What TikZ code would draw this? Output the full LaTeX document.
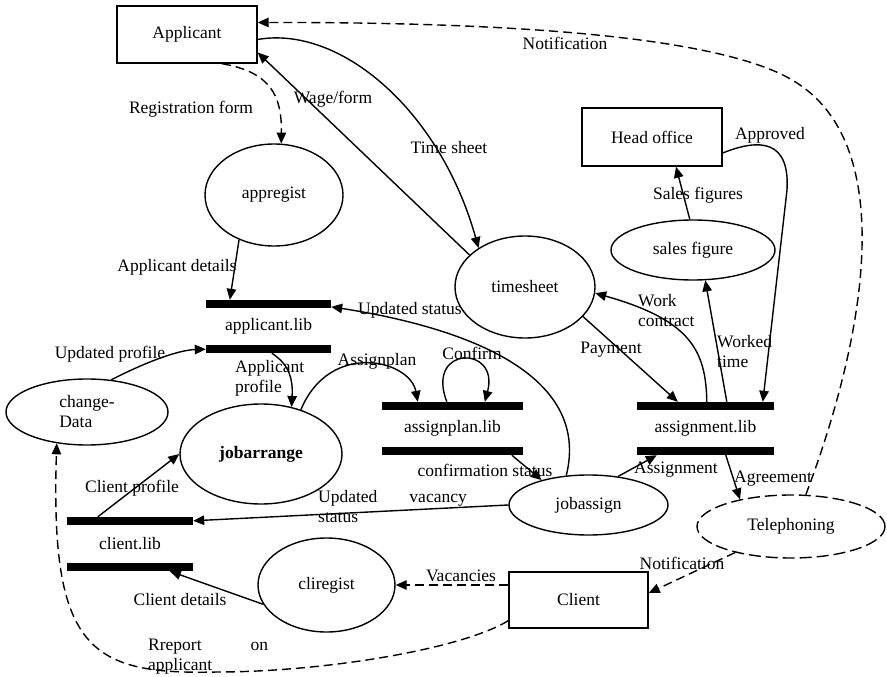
\documentclass[tikz,border=0pt]{standalone}
\usepackage{fontspec}
\setmainfont{Liberation Serif}
\usetikzlibrary{arrows.meta,shapes.geometric}

\begin{document}
\begin{tikzpicture}[
  every node/.style={font=\fontsize{17.5}{20}\selectfont, inner sep=1pt},
  ext/.style={rectangle, draw=black, line width=1.4pt},
  proc/.style={ellipse, draw=black, line width=1.4pt, inner sep=2pt},
  store/.style={rectangle, minimum height=45pt, inner sep=0pt},
  bar/.style={line width=8.5pt, color=black},
  flow/.style={line width=1.4pt, -{Triangle[length=11pt, width=9.5pt]}},
  dflow/.style={flow, dash pattern=on 9pt off 5pt},
  lbl/.style={inner sep=0pt}
]
\useasboundingbox (0pt, 0pt) rectangle (887pt, -677pt);
% externals, processes and stores
\node (1) [ext, minimum width=140pt, minimum height=57pt] at (187pt, -34.5pt) {Applicant};
\node (2) [ext, minimum width=140pt, minimum height=58pt] at (652pt, -137pt) {Head office};
\node (3) [ext, minimum width=139pt, minimum height=56pt] at (578.5pt, -600pt) {Client};
\node (4) [proc, minimum width=138pt, minimum height=102pt] at (274pt, -195pt) {appregist};
\node (5) [proc, minimum width=140pt, minimum height=102pt] at (525pt, -287pt) {timesheet};
\node (6) [proc, minimum width=164pt, minimum height=60pt] at (693pt, -250pt) {sales figure};
\node (7) [proc, minimum width=162pt, minimum height=66pt, align=left] at (87pt, -412pt) {change-\\Data};
\node (8) [proc, minimum width=162pt, minimum height=100pt, font={\fontsize{17.5}{20}\selectfont\bfseries}] at (261pt, -454pt) {jobarrange};
\node (9) [proc, minimum width=137pt, minimum height=94pt] at (326.5pt, -585pt) {cliregist};
\node (10) [proc, minimum width=159pt, minimum height=60pt] at (588.5pt, -505pt) {jobassign};
\node (11) [proc, dash pattern=on 12pt off 5pt, minimum width=188pt, minimum height=63pt] at (791pt, -526.5pt) {Telephoning};
\node (12) [store, minimum width=125pt] at (268.5pt, -326.5pt) {applicant.lib};
\node (13) [store, minimum width=141pt] at (452.5pt, -428.5pt) {assignplan.lib};
\node (14) [store, minimum width=137pt] at (705.5pt, -428.5pt) {assignment.lib};
\node (15) [store, minimum width=126pt, minimum height=46pt] at (130pt, -544pt) {client.lib};
\foreach \s in {12,13,14,15} {
  \draw [bar] (\s.north west) -- (\s.north east);
  \draw [bar] (\s.south west) -- (\s.south east);
}
% data flows
\draw [dflow] (11.65) .. controls (868pt, -330pt) and (895pt, -150pt) .. (800pt, -85pt) .. controls (730pt, -35pt) and (500pt, -22pt) .. ([yshift=12pt]1.east);
\draw [dflow] ([xshift=35pt]1.south) .. controls (270pt, -72pt) and (282pt, -95pt) .. (4.82);
\draw [flow] (5.150) -- ([yshift=-18pt]1.east);
\draw [flow] ([yshift=-5pt]1.east) .. controls (340pt, -25pt) and (440pt, -110pt) .. (5.140);
\draw [flow] (4.232) -- ([xshift=24pt, yshift=4pt]12.north west);
\draw [flow] (10.127) .. controls (590pt, -380pt) and (480pt, -330pt) .. ([yshift=-3pt]12.north east);
\draw [flow] (7.53) .. controls (150pt, -360pt) and (180pt, -350pt) .. (12.south west);
\draw [flow] ([xshift=66pt, yshift=-4pt]12.south west) .. controls (290pt, -365pt) and (293pt, -380pt) .. (8.57);
\draw [flow] (8.48) .. controls (330pt, -340pt) and (410pt, -360pt) .. ([xshift=36pt, yshift=4pt]13.north west);
\draw [flow] ([xshift=65pt, yshift=4pt]13.north west) .. controls (425pt, -345pt) and (500pt, -345pt) .. ([xshift=103pt, yshift=4pt]13.north west);
\draw [flow] ([xshift=130pt, yshift=-4pt]13.south west) -- (10.152);
\draw [flow] (5.-27) -- ([xshift=41pt, yshift=4pt]14.north west);
\draw [flow] ([xshift=70pt, yshift=4pt]14.north west) .. controls (706pt, -350pt) and (690pt, -320pt) .. (5.-5);
\draw [flow] ([xshift=90pt, yshift=4pt]14.north west) -- (6.-68);
\draw [flow] ([yshift=-16pt]2.east) .. controls (760pt, -138pt) and (790pt, -140pt) .. (787pt, -190pt) -- ([xshift=126pt, yshift=4pt]14.north west);
\draw [flow] (6.96) -- ([xshift=24pt]2.south);
\draw [flow] (10.44) -- ([xshift=20pt, yshift=-4pt]14.south west);
\draw [flow] ([xshift=89pt, yshift=-4pt]14.south west) -- (11.152);
\draw [dflow] (11.205) -- ([yshift=7pt]3.east);
\draw [dflow] ([yshift=15pt]3.west) -- (9.0);
\draw [flow] (9.197) -- ([xshift=103pt, yshift=-4pt]15.south west);
\draw [flow] ([xshift=31pt, yshift=4pt]15.north west) -- (8.west);
\draw [flow] (10.west) -- (15.north east);
\draw [dflow] ([yshift=8pt]3.south west) .. controls (460pt, -650pt) and (320pt, -672pt) .. (217pt, -672pt) .. controls (90pt, -675pt) and (50pt, -650pt) .. (7.226);
% flow labels
\node (l1) [lbl] at (565pt, -43pt) {Notification};
\node (l2) [lbl] at (191pt, -109pt) {Registration form};
\node (l3) [lbl] at (333pt, -99pt) {Wage/form};
\node (l4) [lbl] at (449pt, -148pt) {Time sheet};
\node (l5) [lbl] at (770pt, -135pt) {Approved};
\node (l6) [lbl] at (698pt, -195pt) {Sales figures};
\node (l7) [lbl] at (177pt, -267pt) {Applicant details};
\node (l8) [lbl] at (410pt, -310pt) {Updated status};
\node (l9) [lbl] at (110pt, -354pt) {Updated profile};
\node (l10) [lbl, align=left, anchor=west] at (235pt, -378pt) {Applicant\\profile};
\node (l11) [lbl] at (377pt, -361pt) {Assignplan};
\node (l12) [lbl] at (472pt, -353pt) {Confirm};
\node (l13) [lbl] at (485pt, -470pt) {confirmation status};
\node (l14) [lbl] at (611pt, -350pt) {Payment};
\node (l15) [lbl, align=left, anchor=west] at (638pt, -311pt) {Work\\contract};
\node (l16) [lbl, align=left, anchor=west] at (717pt, -352pt) {Worked\\time};
\node (l17) [lbl] at (676pt, -470pt) {Assignment};
\node (l18) [lbl] at (773pt, -479pt) {Agreement};
\node (l19) [lbl] at (682pt, -563pt) {Notification};
\node (l20) [lbl] at (461pt, -576pt) {Vacancies};
\node (l21) [lbl] at (180pt, -600pt) {Client details};
\node (l22) [lbl] at (132pt, -488pt) {Client profile};
\node (l23) [lbl, align=left, anchor=west] at (318pt, -507pt) {Updated\hspace{32pt}vacancy\\status};
\node (l24) [lbl, align=left, anchor=west] at (148pt, -657pt) {Rreport\hspace{49pt}on\\applicant};
\end{tikzpicture}
\end{document}
